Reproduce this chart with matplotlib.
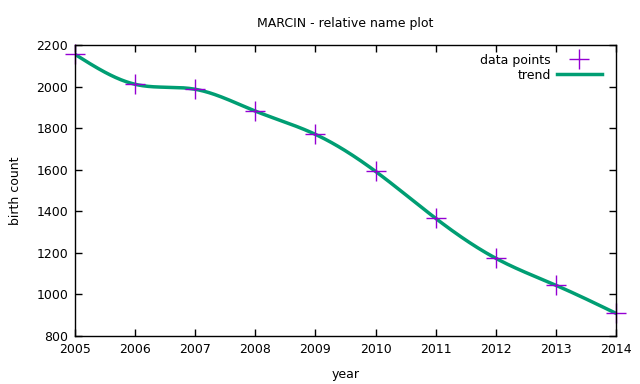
import numpy as np
import matplotlib
matplotlib.use("Agg")
import matplotlib.pyplot as plt

years = [2005, 2006, 2007, 2008, 2009, 2010, 2011, 2012, 2013, 2014]
counts = [2155, 2011, 1987, 1882, 1770, 1592, 1366, 1174, 1044, 909]
title = "MARCIN - relative name plot"


def natural_cubic_spline(x, y, xs):
    x = np.asarray(x, float); y = np.asarray(y, float)
    n = len(x)
    h = np.diff(x)
    A = np.zeros((n, n)); b = np.zeros(n)
    A[0, 0] = 1; A[-1, -1] = 1
    for i in range(1, n - 1):
        A[i, i - 1] = h[i - 1]
        A[i, i] = 2 * (h[i - 1] + h[i])
        A[i, i + 1] = h[i]
        b[i] = 3 * ((y[i + 1] - y[i]) / h[i] - (y[i] - y[i - 1]) / h[i - 1])
    c = np.linalg.solve(A, b)
    out = np.empty_like(xs)
    for k, xv in enumerate(xs):
        i = min(max(np.searchsorted(x, xv) - 1, 0), n - 2)
        dx = xv - x[i]
        bi = (y[i + 1] - y[i]) / h[i] - h[i] * (2 * c[i] + c[i + 1]) / 3
        di = (c[i + 1] - c[i]) / (3 * h[i])
        out[k] = y[i] + bi * dx + c[i] * dx**2 + di * dx**3
    return out


plt.rcParams['font.family'] = ['DejaVu Sans']
fig = plt.figure(figsize=(6.4, 3.84), dpi=100)
ax = fig.add_axes([75/640, 1-336/384, (616-75)/640, (336-45)/384])

xs = np.linspace(years[0], years[-1], 400)
ys = natural_cubic_spline(years, counts, xs)

ax.plot(years, counts, linestyle='none', marker='+', markersize=14,
        markeredgewidth=1.0, color='#9400D3', label='data points',
        zorder=2.4, clip_on=False)
ax.plot(xs, ys, color='#009E73', linewidth=2.5, label='trend', zorder=2.2)

ax.set_xlim(2005, 2014)
ax.set_ylim(800, 2200)
ax.set_xticks(years)
ax.set_yticks(range(800, 2201, 200))
ax.tick_params(direction='in', top=True, right=True, length=5, width=1,
               labelsize=9, pad=5)
for s in ax.spines.values():
    s.set_linewidth(1)
    s.set_zorder(2.5)
ax.set_xlabel('year', fontsize=9)
ax.set_ylabel('birth count', fontsize=9)
ax.xaxis.set_label_coords(0.5, -0.11)
ax.yaxis.set_label_coords(-0.098, 0.5)
ax.set_title(title, fontsize=9, pad=13)

ax.legend(loc='upper right', frameon=False, markerfirst=False, fontsize=9,
          handlelength=3.6, handletextpad=0.5, labelspacing=0.15,
          borderaxespad=0.3, bbox_to_anchor=(0.99, 1.0))

fig.savefig('out.png', dpi=100)
